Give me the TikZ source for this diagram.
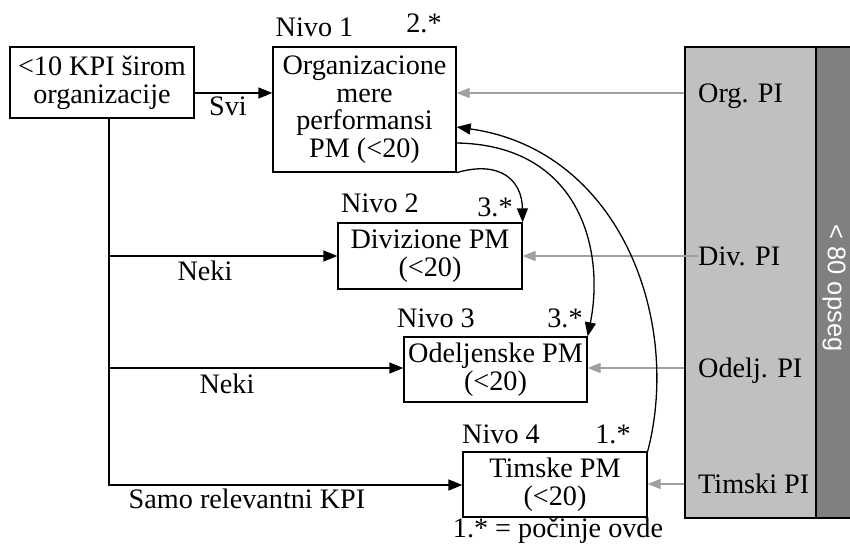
\documentclass[tikz,border=0pt]{standalone}
\usepackage{fontspec}
\setmainfont{Liberation Serif}
\setsansfont{Liberation Sans}
\usetikzlibrary{arrows.meta}
\definecolor{panelgray}{HTML}{C0C0C0}
\definecolor{bandgray}{HTML}{808080}
\definecolor{arrowgray}{HTML}{A0A0A0}
\begin{document}
\begin{tikzpicture}[x=1pt,y=-1pt,
  every node/.style={font=\fontsize{28.2}{27.5}\selectfont},
  box/.style={draw, line width=1.3pt, fill=white, align=center, inner sep=0pt},
  lab/.style={anchor=base, inner sep=0pt},
  pil/.style={anchor=west, inner sep=0pt, text height=19pt, text depth=0pt},
  arr/.style={draw, line width=1.3pt, -{Triangle[length=14pt,width=11pt]}},
  garr/.style={draw=arrowgray, line width=1.3pt, -{Triangle[length=13pt,width=10pt]}}]
\fill[white] (0,0) rectangle (850,545);
\useasboundingbox (0,0) rectangle (850,545);

% right-hand indicator panel
\node[draw, line width=1.3pt, fill=panelgray, minimum width=131pt, minimum height=471pt, inner sep=0pt] (panel) at (750.5,282.5) {};
\node[draw, line width=1.3pt, fill=bandgray, minimum width=35pt, minimum height=471pt, inner sep=0pt] (band) at (833.5,282.5) {};
\node[rotate=-90, text=white, font=\sffamily\fontsize{25.5}{27}\selectfont] (range) at (834,288) {< 80 opseg};

\node[pil] (orgpi) at (698,93) {Org. PI};
\node[pil] (divpi) at (698,256) {Div. PI};
\node[pil] (odjpi) at (698,368) {Odelj. PI};
\node[pil] (timpi) at (698,484) {Timski PI};

% measure boxes
\node[box, minimum width=184pt, minimum height=71pt] (kpi) at (102,82.5) {<10 KPI širom\\organizacije};
\node[box, minimum width=183pt, minimum height=125pt] (org) at (364.5,109.5) {Organizacione\\mere\\performansi\\PM (<20)};
\node[box, minimum width=184pt, minimum height=66pt] (div) at (430,256) {Divizione PM\\(<20)};
\node[box, minimum width=183pt, minimum height=65pt] (odj) at (495.5,369.5) {Odeljenske PM\\(<20)};
\node[box, minimum width=184pt, minimum height=65pt] (tim) at (555,484.5) {Timske PM\\(<20)};

% level labels and step marks
\node[lab] (n1) at (314.5,37) {Nivo 1};
\node[lab] (s1) at (424,33) {2.*};
\node[lab] (n2) at (380,213) {Nivo 2};
\node[lab] (s2) at (495,216) {3.*};
\node[lab] (n3) at (436,327) {Nivo 3};
\node[lab] (s3) at (565,327) {3.*};
\node[lab] (n4) at (501,443) {Nivo 4};
\node[lab] (s4) at (613,443) {1.*};
\node[lab] (note) at (558,537) {1.* = počinje ovde};
\node[lab] (svi) at (228,116) {Svi};
\node[lab] (neki1) at (205,280) {Neki};
\node[lab] (neki2) at (227,393) {Neki};
\node[lab] (samo) at (247,508) {Samo relevantni KPI};

% row helpers
\coordinate (svirow) at (0,93);
\coordinate (trunk) at (109,485);
\coordinate (odjrow) at (0,368);
\coordinate (r127) at (0,127);
\coordinate (r143) at (0,143);

% KPI distribution
\draw[arr] (kpi.east |- svirow) -- (org.west |- svirow);
\draw[arr] (kpi.south -| trunk) -- (trunk) -- (tim.west |- trunk);
\draw[arr] (div.west -| trunk) -- (div.west);
\draw[arr] (trunk |- odjrow) -- (odj.west |- odjrow);

% indicator inputs
\draw[garr] (orgpi.west -| panel.west) -- (orgpi.west -| org.east);
\draw[garr] (divpi.west) -- (divpi.west -| div.east);
\draw[garr] (odjpi.west -| panel.west) -- (odjpi.west -| odj.east);
\draw[garr] (timpi.west -| panel.west) -- (timpi.west -| tim.east);

% sequence curves
\draw[arr] (tim.north east) .. controls (682,320) and (620,150) .. (org.east |- r127);
\draw[arr] (org.east |- r143) .. controls (580,145) and (605,250) .. (odj.north east);
\draw[arr] (org.south east) .. controls (500,160) and (522,180) .. (div.north east);
\end{tikzpicture}
\end{document}
